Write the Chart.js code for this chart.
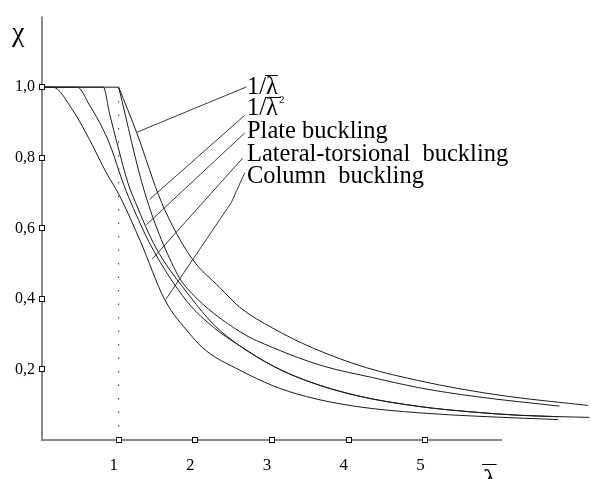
<!DOCTYPE html>
<html>
<head>
<meta charset="utf-8">
<script src="https://cdn.jsdelivr.net/npm/chart.js@4.4.1/dist/chart.umd.min.js"></script>
<style>
  html, body { margin: 0; padding: 0; background: #fff; }
  #wrap { width: 591px; height: 479px; position: relative; }
</style>
</head>
<body>
<div id="wrap"><canvas id="chart-canvas"></canvas></div>
<script>
// reduction factor chi against relative slenderness lambda
const plateauLam = [0, 1];
const plateauChi = [1, 1];

const columnLam = [0, 0.14, 0.40, 0.62, 0.84, 1.01, 1.28, 1.60, 1.93, 2.14, 2.58, 3.01, 3.45, 4.10, 4.92, 5.71, 6.73];
const columnChi = [1, 1, 0.935, 0.851, 0.757, 0.693, 0.565, 0.398, 0.300, 0.253, 0.198, 0.154, 0.123, 0.095, 0.077, 0.067, 0.058];

const ltbLam = [0, 0.46, 0.62, 0.80, 0.91, 1.04, 1.16, 1.43, 1.89, 2.25, 2.58, 3.01, 3.45, 4.10, 4.92, 5.58, 6.23, 6.73];
const ltbChi = [1, 1, 0.949, 0.879, 0.823, 0.739, 0.673, 0.547, 0.393, 0.317, 0.267, 0.210, 0.168, 0.126, 0.095, 0.080, 0.070, 0.066];

const plateLam = [0, 0.80, 0.88, 0.99, 1.12, 1.22, 1.48, 1.93, 2.25, 2.58, 3.01, 3.45, 4.10, 4.92, 5.58, 6.23, 7.14];
const plateChi = [1, 1, 0.926, 0.832, 0.729, 0.673, 0.547, 0.407, 0.325, 0.267, 0.210, 0.168, 0.126, 0.095, 0.080, 0.070, 0.064];

const invSqLam = [1, 1.34, 1.77, 1.93, 2.58, 3.01, 3.66, 4.31, 4.92, 5.66, 6.75];
const invSqChi = [1, 0.701, 0.468, 0.421, 0.307, 0.262, 0.210, 0.177, 0.148, 0.123, 0.096];

const invLam = [1, 1.235, 1.56, 1.95, 2.32, 2.58, 3.01, 3.53, 4.23, 4.92, 5.45, 6.10, 7.12];
const invChi = [1, 0.871, 0.673, 0.516, 0.432, 0.376, 0.317, 0.261, 0.205, 0.168, 0.145, 0.123, 0.098];

const xTicks = [1, 2, 3, 4, 5];
const yTicks = [0.2, 0.4, 0.6, 0.8, 1.0];
const xAxisEnd = 6;

const curveLabels = ['1/λ', '1/λ²', 'Plate buckling', 'Lateral-torsional  buckling', 'Column  buckling'];
const labelLam = 2.673;
const labelChi = [0.982, 0.920, 0.857, 0.791, 0.729];
// leader lines, from the curve up to the label
const leaderLam = [[1.235, 2.669], [1.404, 2.643], [1.361, 2.643], [1.439, 2.617], [1.613, 2.469, 2.643]];
const leaderChi = [[0.872, 1.001], [0.682, 0.920], [0.610, 0.870], [0.513, 0.799], [0.398, 0.673, 0.757]];

const SERIF = '"Liberation Serif", "Times New Roman", serif';

function toPoints(xs, ys) {
  return xs.map((x, i) => ({ x: x, y: ys[i] }));
}

function curve(xs, ys, extra) {
  return Object.assign({
    data: toPoints(xs, ys),
    borderColor: '#1c1c1c',
    borderWidth: 1,
    pointRadius: 0,
    fill: false,
    cubicInterpolationMode: 'monotone'
  }, extra || {});
}

// text with an overline over every lambda and a small raised "2"
function drawLambdaText(ctx, text, x, y, size, rise) {
  let cx = x;
  for (const ch of text) {
    if (ch === '²') {
      ctx.font = Math.round(size * 0.45) + 'px ' + SERIF;
      ctx.fillText('2', cx + 1, y - size * 0.5);
      cx += ctx.measureText('2').width;
      continue;
    }
    ctx.font = size + 'px ' + SERIF;
    const w = ctx.measureText(ch).width;
    ctx.fillText(ch, cx, y);
    if (ch === 'λ') {
      const oy = Math.round(y - size * rise) + 0.5;
      ctx.save();
      ctx.lineWidth = 1;
      ctx.strokeStyle = '#000';
      ctx.beginPath();
      ctx.moveTo(cx - 1, oy);
      ctx.lineTo(cx + w + (text.indexOf('²') >= 0 ? 3 : 0), oy);
      ctx.stroke();
      ctx.restore();
    }
    cx += w;
  }
}

const decorations = {
  id: 'decorations',
  beforeDatasetsDraw(chart) {
    const { ctx, chartArea, scales: { x, y } } = chart;
    ctx.save();
    ctx.strokeStyle = '#8a8a8a';
    ctx.lineWidth = 2;
    ctx.beginPath();
    ctx.moveTo(chartArea.left, chartArea.top);
    ctx.lineTo(chartArea.left, y.getPixelForValue(0));
    ctx.lineTo(x.getPixelForValue(xAxisEnd), y.getPixelForValue(0));
    ctx.stroke();
    ctx.restore();
  },
  afterDatasetsDraw(chart) {
    const { ctx, scales: { x, y } } = chart;
    ctx.save();
    ctx.lineWidth = 1;
    ctx.strokeStyle = '#111';
    ctx.fillStyle = '#fff';
    const box = (px, py) => {
      const bx = Math.round(px) - 2.5, by = Math.round(py) - 2.5;
      ctx.fillRect(bx, by, 5, 5);
      ctx.strokeRect(bx, by, 5, 5);
    };
    xTicks.forEach(v => box(x.getPixelForValue(v), y.getPixelForValue(0)));
    yTicks.forEach(v => box(x.getPixelForValue(0), y.getPixelForValue(v)));

    // curve names
    ctx.fillStyle = '#000';
    ctx.textBaseline = 'alphabetic';
    ctx.textAlign = 'left';
    curveLabels.forEach((t, i) => {
      drawLambdaText(ctx, t, x.getPixelForValue(labelLam), y.getPixelForValue(labelChi[i]), 24.5, 0.74);
    });

    // axis titles
    ctx.font = '28px ' + SERIF;
    ctx.fillText('χ', 12, 41);
    drawLambdaText(ctx, 'λ', 483, 488, 28, 0.86);
    ctx.restore();
  }
};

const datasets = [
  curve(plateauLam, plateauChi, { cubicInterpolationMode: 'default', tension: 0 }),
  curve(columnLam, columnChi),
  curve(ltbLam, ltbChi),
  curve(plateLam, plateChi),
  curve(invSqLam, invSqChi),
  curve(invLam, invChi),
  curve([1, 1], [0, 1], { borderColor: '#333', borderDash: [1.5, 12], cubicInterpolationMode: 'default', tension: 0 })
];
leaderLam.forEach((xs, i) => {
  datasets.push(curve(xs, leaderChi[i], { borderColor: '#3a3a3a', cubicInterpolationMode: 'default', tension: 0 }));
});

new Chart(document.getElementById('chart-canvas'), {
  type: 'line',
  data: { datasets: datasets },
  plugins: [decorations],
  options: {
    responsive: true,
    maintainAspectRatio: false,
    animation: false,
    layout: { padding: { top: 12, left: 0, right: 0, bottom: 0 } },
    plugins: { legend: { display: false }, tooltip: { enabled: false } },
    scales: {
      x: {
        type: 'linear',
        min: 0,
        max: 7.16,
        grid: { display: false, drawTicks: false },
        border: { display: false },
        afterBuildTicks: s => { s.ticks = xTicks.map(v => ({ value: v })); },
        afterFit: s => { s.height = 39; },
        ticks: {
          color: '#000',
          font: { family: SERIF, size: 17 },
          padding: 15,
          labelOffset: -5,
          maxRotation: 0,
          callback: v => String(v)
        }
      },
      y: {
        min: 0,
        max: 1.2,
        grid: { display: false, drawTicks: false },
        border: { display: false },
        afterBuildTicks: s => { s.ticks = yTicks.map(v => ({ value: v })); },
        afterFit: s => { s.width = 42; },
        ticks: {
          color: '#000',
          font: { family: SERIF, size: 16 },
          padding: 7,
          callback: v => v.toFixed(1).replace('.', ',')
        }
      }
    }
  }
});
</script>
</body>
</html>
